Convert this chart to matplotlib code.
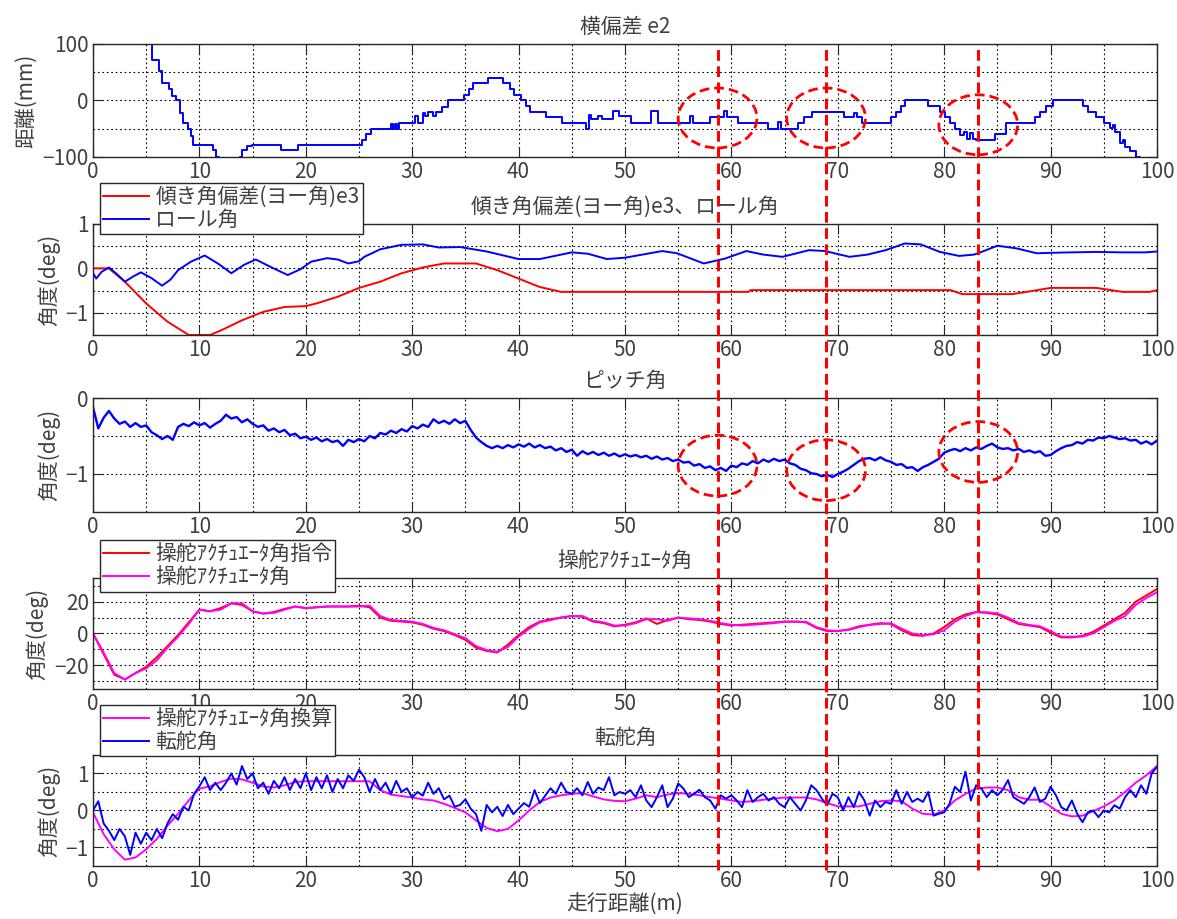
import numpy as np
import matplotlib
matplotlib.use("Agg")
import matplotlib.pyplot as plt
import matplotlib.transforms as mtransforms
from matplotlib.lines import Line2D
from matplotlib.patches import Ellipse
from matplotlib.ticker import MultipleLocator

plt.rcParams['font.family'] = ['Noto Sans CJK JP', 'DejaVu Sans']

# -- lateral deviation e2 (step-like trace, mm) --------------------------------
e2_x = [0, 4.6, 5.1, 5.5, 6.2, 6.5, 7.1, 7.4, 7.8, 8.2, 8.5, 8.9, 9.2, 9.4,
        11.3, 11.6, 11.8, 13.8, 14.0, 14.5, 14.9, 17.7, 19.3,
        25.3, 25.7, 26.1, 28.0, 28.2, 28.4, 28.6, 28.8, 30.3, 30.5, 31.0, 31.2,
        31.5, 32.0, 32.2, 32.8, 33.4, 34.9, 35.3, 35.7, 37.1, 38.5, 39.2, 39.6,
        40.2, 40.7, 41.1, 42.6, 44.1, 46.3, 46.6, 46.8, 47.5, 47.8, 48.9, 49.4,
        50.6, 52.4, 53.1, 56.1, 56.4, 58.0, 59.3, 59.6, 60.6, 63.4, 64.4, 64.7,
        66.3, 66.8, 67.6, 70.6, 71.5, 71.8, 72.3, 75.0, 75.5, 75.9, 76.3, 78.5,
        79.6, 80.1, 80.5, 81.0, 81.5, 81.9, 82.1, 82.4, 82.7, 83.0, 84.8, 85.8,
        88.5, 89.0, 89.6, 90.2, 93.0, 93.5, 94.3, 95.0, 95.6, 95.9, 96.1, 96.5,
        96.8, 97.0, 97.5, 98.0, 98.4, 100]
e2_mm = [250, 130, 100, 72, 52, 31, 20, 8, 0, -22, -40, -51, -63, -78,
         -88, -100, -120, -100, -88, -80, -78, -87, -78,
         -70, -60, -50, -42, -50, -42, -50, -40, -28, -40, -22, -28,
         -20, -28, -20, -12, 0, 10, 20, 30, 40, 30, 20, 10,
         0, -10, -20, -30, -40, -50, -25, -32, -27, -32, -19, -28,
         -40, -19, -40, -27, -40, -30, -19, -30, -40, -50, -38, -50,
         -40, -30, -20, -30, -22, -30, -40, -30, -20, -10, 0, -10,
         -20, -30, -40, -50, -62, -55, -68, -58, -68, -70, -60, -40,
         -30, -20, -10, 0, -10, -20, -30, -40, -48, -44, -55, -75,
         -70, -82, -90, -100, -120, -120]

# -- yaw deviation e3 and roll angle (deg) -------------------------------------
e3_x = [0, 1.5, 3, 5, 7, 9, 11, 12, 14, 16, 18, 20, 21, 23, 25, 27, 29, 31,
        33, 36, 38, 40, 42, 44, 61.6, 61.8, 80.6, 81.7, 86.4, 88, 90, 94.3,
        96.8, 99.3, 100]
e3_deg = [0, 0, -0.30, -0.79, -1.20, -1.50, -1.50, -1.40, -1.17, -0.98, -0.87,
          -0.85, -0.79, -0.64, -0.44, -0.30, -0.11, 0.02, 0.11, 0.11, -0.04,
          -0.23, -0.42, -0.53, -0.53, -0.49, -0.49, -0.58, -0.58, -0.52, -0.44,
          -0.44, -0.53, -0.53, -0.49]

roll_x = [0, 0.3, 0.8, 1.5, 2.2, 3.0, 3.8, 4.5, 5.5, 6.5, 7.3, 8.0, 9.2, 10.5,
          11.8, 13.0, 14.2, 15.3, 16.8, 18.3, 19.5, 20.5, 22.0, 23.0, 24.0,
          25.0, 25.5, 27.0, 29.0, 31.0, 32.5, 34.5, 37.0, 40.0, 42.0, 45.0,
          46.5, 48.3, 50.0, 53.5, 54.9, 57.4, 59.4, 61.4, 63.0, 64.8, 67.3,
          68.8, 71.1, 72.8, 74.5, 76.3, 77.8, 79.6, 81.4, 82.8, 83.5, 85.0,
          86.8, 88.7, 90.0, 91.8, 94.3, 96.8, 98.9, 100]
roll_deg = [-0.10, -0.23, -0.08, 0.02, -0.12, -0.30, -0.18, -0.09, -0.22, -0.39,
            -0.25, -0.04, 0.15, 0.29, 0.10, -0.11, 0.08, 0.20, 0.02, -0.15,
            -0.02, 0.15, 0.23, 0.20, 0.11, 0.16, 0.26, 0.43, 0.53, 0.54, 0.47,
            0.48, 0.38, 0.21, 0.21, 0.36, 0.33, 0.21, 0.24, 0.39, 0.34, 0.11,
            0.22, 0.39, 0.31, 0.26, 0.41, 0.39, 0.26, 0.31, 0.41, 0.56, 0.54,
            0.37, 0.28, 0.31, 0.37, 0.51, 0.45, 0.34, 0.35, 0.36, 0.37, 0.36,
            0.36, 0.38]

# -- pitch angle, every 0.5 m (deg) --------------------------------------------
pitch_deg = [
    -0.12, -0.40, -0.26, -0.17, -0.27, -0.34, -0.31, -0.38, -0.33, -0.38,
    -0.36, -0.45, -0.49, -0.54, -0.50, -0.55, -0.38, -0.34, -0.37, -0.32,
    -0.36, -0.33, -0.39, -0.34, -0.30, -0.22, -0.27, -0.25, -0.32, -0.28,
    -0.34, -0.38, -0.36, -0.43, -0.40, -0.45, -0.42, -0.49, -0.47, -0.53,
    -0.51, -0.55, -0.52, -0.57, -0.54, -0.58, -0.56, -0.63, -0.55, -0.58,
    -0.54, -0.57, -0.50, -0.53, -0.46, -0.48, -0.43, -0.46, -0.41, -0.44,
    -0.37, -0.40, -0.35, -0.38, -0.28, -0.33, -0.30, -0.34, -0.28, -0.33,
    -0.30, -0.42, -0.52, -0.58, -0.63, -0.66, -0.63, -0.66, -0.62, -0.65,
    -0.61, -0.64, -0.60, -0.65, -0.62, -0.66, -0.64, -0.69, -0.66, -0.71,
    -0.68, -0.76, -0.70, -0.74, -0.71, -0.75, -0.72, -0.76, -0.73, -0.77,
    -0.74, -0.77, -0.75, -0.78, -0.76, -0.80, -0.77, -0.81, -0.79, -0.83,
    -0.81, -0.85, -0.84, -0.89, -0.87, -0.92, -0.90, -0.95, -0.92, -0.96,
    -0.89, -0.91, -0.86, -0.88, -0.83, -0.86, -0.81, -0.84, -0.80, -0.83,
    -0.81, -0.86, -0.88, -0.93, -0.95, -0.99, -1.00, -1.03, -1.01, -1.04,
    -1.00, -0.97, -0.93, -0.88, -0.83, -0.80, -0.79, -0.82, -0.78, -0.82,
    -0.84, -0.88, -0.87, -0.92, -0.91, -0.96, -0.91, -0.88, -0.84, -0.80,
    -0.72, -0.69, -0.67, -0.70, -0.66, -0.69, -0.65, -0.67, -0.63, -0.60,
    -0.65, -0.67, -0.66, -0.69, -0.67, -0.71, -0.69, -0.72, -0.70, -0.76,
    -0.75, -0.70, -0.66, -0.63, -0.62, -0.58, -0.60, -0.55, -0.56, -0.52,
    -0.53, -0.50, -0.52, -0.54, -0.53, -0.56, -0.55, -0.60, -0.57, -0.61,
    -0.56]

# -- steering actuator command / actual, every 1 m (deg) -----------------------
act_cmd = [
    0, -13, -26, -29, -25, -21, -15, -8, -1, 7,
    15, 14, 16, 19, 18, 14, 12.5, 13.5, 15.5, 17,
    16, 16.5, 17, 17, 17, 17.5, 16.5, 10, 8, 7.5,
    7, 5.5, 3, 1.5, -1, -4, -9, -11, -12, -7,
    -1, 4, 7.5, 9, 10, 11, 10.5, 7.5, 6.5, 4.5,
    5.5, 7, 9.5, 6, 8.5, 10, 9, 8.5, 7.5, 6,
    5, 5.5, 6, 6.5, 7, 7.5, 7.5, 7, 3.5, 1.5,
    1.5, 2.5, 4.5, 5.5, 6.5, 6, 2, -1, -1.5, 0,
    4, 9, 12, 13.5, 13, 12, 9, 6, 5, 4,
    0.5, -2.5, -2.5, -1.5, 1, 5, 9, 13, 20, 24,
    28]
act_real = [
    0, -12, -25, -29, -25, -22, -17, -9, -2, 6,
    15, 14, 15, 19, 19, 14, 12.6, 13, 15, 17,
    16, 16.5, 17, 17, 17, 17, 17.5, 11, 8.5, 8,
    7.5, 6, 3.5, 2, -0.5, -3, -8, -10.5, -11.5, -8.5,
    -2, 3, 7, 8.4, 10, 11, 11, 8, 7, 5,
    5, 6.5, 9, 9, 8, 10, 9.5, 9, 8, 6.5,
    5.5, 5, 5.5, 6, 6.5, 7.4, 7.4, 7.4, 4, 2,
    1.6, 2.2, 4, 5.4, 6, 6.4, 3, 0, -1, -0.5,
    2, 7.4, 11, 13.4, 13.4, 12.6, 10, 6.6, 5.4, 4.5,
    1.5, -2, -2, -2, 0, 4, 8, 11, 18, 22.4,
    26]

# -- converted actuator angle (every 1 m) and wheel steer angle (every 0.5 m) --
act_conv = [
    -0.05, -0.64, -1.05, -1.33, -1.27, -1.05, -0.77, -0.41, -0.09, 0.27,
    0.59, 0.65, 0.77, 0.86, 0.84, 0.75, 0.65, 0.62, 0.68, 0.77,
    0.79, 0.79, 0.79, 0.79, 0.79, 0.79, 0.79, 0.55, 0.43, 0.39,
    0.35, 0.30, 0.27, 0.18, 0.07, -0.05, -0.27, -0.47, -0.56, -0.50,
    -0.27, 0.00, 0.23, 0.35, 0.41, 0.45, 0.47, 0.38, 0.30, 0.26,
    0.25, 0.32, 0.41, 0.36, 0.43, 0.47, 0.45, 0.41, 0.36, 0.32,
    0.27, 0.23, 0.25, 0.29, 0.32, 0.35, 0.35, 0.35, 0.30, 0.20,
    0.11, 0.11, 0.11, 0.18, 0.25, 0.27, 0.25, 0.05, -0.09, -0.11,
    0.00, 0.27, 0.45, 0.59, 0.62, 0.62, 0.55, 0.36, 0.29, 0.29,
    0.11, -0.09, -0.16, -0.14, -0.02, 0.11, 0.27, 0.50, 0.75, 0.95,
    1.20]
steer_deg = [
    0.00, 0.25, -0.35, -0.55, -0.80, -0.50, -0.70, -1.20, -0.60, -0.90,
    -0.60, -0.80, -0.50, -0.75, -0.35, -0.10, -0.25, 0.10, 0.00, 0.45,
    0.65, 0.90, 0.55, 0.75, 0.55, 0.75, 1.00, 0.70, 1.20, 0.85,
    1.00, 0.60, 0.75, 0.45, 0.80, 0.60, 0.90, 0.55, 0.85, 0.60,
    1.00, 0.55, 0.90, 0.60, 0.95, 0.50, 0.85, 0.60, 0.95, 0.80,
    1.10, 0.90, 0.50, 0.85, 0.55, 0.75, 0.45, 0.80, 0.50, 0.60,
    0.35, 0.50, 0.40, 0.75, 0.45, 0.60, 0.30, 0.40, 0.10, 0.15,
    0.30, 0.05, -0.10, -0.55, 0.15, -0.05, 0.10, -0.15, 0.15, -0.10,
    0.05, 0.20, 0.10, 0.55, 0.20, 0.40, 0.60, 0.45, 0.75, 0.50,
    0.45, 0.60, 0.41, 0.77, 0.45, 0.62, 0.55, 0.90, 0.41, 0.50,
    0.45, 0.55, 0.36, 0.68, 0.27, 0.09, 0.36, 0.68, 0.09, 0.32,
    0.73, 0.59, 0.36, 0.45, 0.56, 0.36, 0.27, 0.05, 0.41, 0.32,
    0.41, 0.27, 0.09, 0.55, 0.23, 0.36, 0.45, 0.27, 0.36, 0.18,
    0.09, 0.36, 0.18, 0.00, 0.27, 0.68, 0.55, 0.32, 0.14, 0.45,
    0.36, 0.00, 0.36, 0.09, 0.50, 0.27, -0.14, 0.27, 0.09, 0.23,
    0.18, 0.55, 0.18, 0.50, 0.23, 0.32, 0.23, 0.50, -0.14, -0.09,
    -0.05, 0.18, 0.64, 0.50, 1.05, 0.27, 0.68, 0.59, 0.36, 0.55,
    0.41, 0.56, 0.82, 0.36, 0.27, 0.18, 0.36, 0.62, 0.23, 0.32,
    0.64, 0.41, 0.09, 0.00, 0.27, -0.09, -0.32, -0.05, 0.00, -0.18,
    0.00, -0.05, 0.14, 0.05, 0.36, 0.55, 0.36, 0.68, 0.45, 1.00,
    1.18]

# -- marked positions along the run (m) and circled regions --------------------
marks_m = [58.7, 68.9, 83.2]
e2_ring_mm = [-31, -31, -43]
pitch_ring_deg = [-0.89, -0.95, -0.71]

TXT = '#404040'
FS = 15


def style_axes(ax, ylim, yticks, ygrid_step, title, ylabel):
    ax.set_xlim(0, 100)
    ax.set_ylim(*ylim)
    ax.set_xticks(np.arange(0, 101, 10))
    ax.xaxis.set_minor_locator(MultipleLocator(5))
    ax.set_yticks(yticks)
    ax.yaxis.set_minor_locator(MultipleLocator(ygrid_step))
    ax.grid(True, which='both', color='black', ls=(0, (1.5, 2.5)), lw=0.8)
    ax.tick_params(which='major', direction='in', top=True, right=True,
                   length=7, width=0.8, color='#262626',
                   labelsize=FS, labelcolor=TXT, pad=3)
    ax.tick_params(which='minor', length=0)
    for sp in ax.spines.values():
        sp.set_color('#262626')
        sp.set_linewidth(1.0)
    ax.set_title(title, fontsize=FS, color=TXT, pad=8)
    ax.set_ylabel(ylabel, fontsize=FS, color=TXT, labelpad=4)


def add_legend(ax, top):
    leg = ax.legend(loc='upper left', bbox_to_anchor=(0.0066, top),
                    borderaxespad=0, fancybox=False, framealpha=1,
                    edgecolor='#262626', fontsize=FS, handlelength=2.2,
                    labelspacing=0.05, borderpad=0.15, handletextpad=0.3)
    leg.get_frame().set_linewidth(1.0)
    for t in leg.get_texts():
        t.set_color(TXT)
    leg.set_zorder(20)


fig = plt.figure(figsize=(11.77, 9.19), dpi=100)
left, width = 0.079, 0.904
ax1 = fig.add_axes([left, 0.8292, width, 0.1230])
ax2 = fig.add_axes([left, 0.6355, width, 0.1208])
ax3 = fig.add_axes([left, 0.4429, width, 0.1240])
ax4 = fig.add_axes([left, 0.2503, width, 0.1208])
ax5 = fig.add_axes([left, 0.0577, width, 0.1208])

# lateral deviation
ax1.step(e2_x, e2_mm, where='post', color='blue', lw=1.4)
style_axes(ax1, (-100, 100), [-100, 0, 100], 50, '横偏差 e2', '距離(mm)')
for xm, ym in zip(marks_m, e2_ring_mm):
    ax1.add_patch(Ellipse((xm, ym), 7.4, 106, fill=False, ec='red', lw=2.0,
                          ls=(0, (3.5, 1.8)), clip_on=False, zorder=6))

# yaw deviation and roll
ax2.plot(e3_x, e3_deg, color='red', lw=1.4, label='傾き角偏差(ヨー角)e3')
ax2.plot(roll_x, roll_deg, color='blue', lw=1.4, label='ロール角')
style_axes(ax2, (-1.5, 1), [-1, 0, 1], 0.5, '傾き角偏差(ヨー角)e3、ロール角', '角度(deg)')
add_legend(ax2, 1.37)

# pitch
pitch_x = np.arange(len(pitch_deg)) * 0.5
ax3.plot(pitch_x, pitch_deg, color='blue', lw=1.7)
style_axes(ax3, (-1.5, 0), [-1, 0], 0.5, 'ピッチ角', '角度(deg)')
for xm, ym in zip(marks_m, pitch_ring_deg):
    ax3.add_patch(Ellipse((xm, ym), 7.4, 0.8, fill=False, ec='red', lw=2.0,
                          ls=(0, (3.5, 1.8)), clip_on=False, zorder=6))

# steering actuator
act_x = np.arange(len(act_cmd))
ax4.plot(act_x, act_cmd, color='red', lw=1.4, label='操舵ｱｸﾁｭｴｰﾀ角指令')
ax4.plot(act_x, act_real, color='magenta', lw=1.4, label='操舵ｱｸﾁｭｴｰﾀ角')
style_axes(ax4, (-35, 35), [-20, 0, 20], 10, '操舵ｱｸﾁｭｴｰﾀ角', '角度(deg)')
add_legend(ax4, 1.34)

# wheel steer angle
conv_x = np.arange(len(act_conv))
steer_x = np.arange(len(steer_deg)) * 0.5
ax5.plot(conv_x, act_conv, color='magenta', lw=1.4, label='操舵ｱｸﾁｭｴｰﾀ角換算')
ax5.plot(steer_x, steer_deg, color='blue', lw=1.4, label='転舵角')
style_axes(ax5, (-1.5, 1.5), [-1, 0, 1], 0.5, '転舵角', '角度(deg)')
ax5.set_xlabel('走行距離(m)', fontsize=FS, color=TXT, labelpad=1)
add_legend(ax5, 1.45)

# vertical markers running through every panel
blend = mtransforms.blended_transform_factory(ax5.transData, fig.transFigure)
for xm in marks_m:
    fig.add_artist(Line2D([xm, xm], [0.0533, 0.952], transform=blend,
                          color='red', lw=2.2, ls=(0, (3.5, 1.8)), zorder=30))

fig.savefig('out.png', dpi=100)
